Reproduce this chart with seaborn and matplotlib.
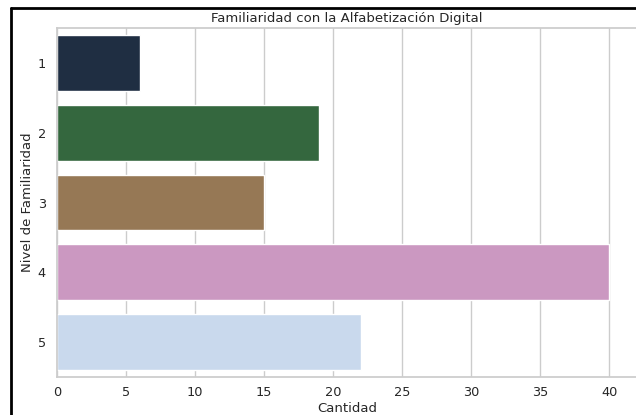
import seaborn as sns
import pandas as pd
import matplotlib.pyplot as plt
from matplotlib.lines import Line2D

niveles = ["1", "2", "3", "4", "5"]
cantidad = [6, 19, 15, 40, 22]

df = pd.DataFrame({"Nivel de Familiaridad": niveles, "Cantidad": cantidad})

sns.set_theme(style="whitegrid")
plt.rcParams["font.family"] = ["DejaVu Sans"]

fig = plt.figure(figsize=(6.36, 4.15), dpi=100)
# axes ends right at the edge, like the cropped screenshot
ax = fig.add_axes([57 / 636, 38 / 415, 580 / 636, 349 / 415])

sns.barplot(data=df, x="Cantidad", y="Nivel de Familiaridad", hue="Nivel de Familiaridad",
            palette="cubehelix", legend=False, ax=ax)

ax.set_xlim(0, 42)
ax.set_xticks(range(0, 45, 5))
ax.set_title("Familiaridad con la Alfabetización Digital", fontsize=9.5, pad=4)
ax.set_xlabel("Cantidad", fontsize=9.5, labelpad=2)
ax.set_ylabel("Nivel de Familiaridad", fontsize=9.5, labelpad=2.5)
ax.tick_params(axis="x", labelsize=9.3, pad=0.5)
ax.tick_params(axis="y", labelsize=9.3, pad=2)

# black frame of the screenshot
fig.add_artist(Line2D([11 / 636, 11 / 636], [0, 1 - 8 / 415], color="black", lw=2))
fig.add_artist(Line2D([11 / 636, 1], [1 - 8 / 415, 1 - 8 / 415], color="black", lw=2))

fig.savefig("out.png", dpi=100)
